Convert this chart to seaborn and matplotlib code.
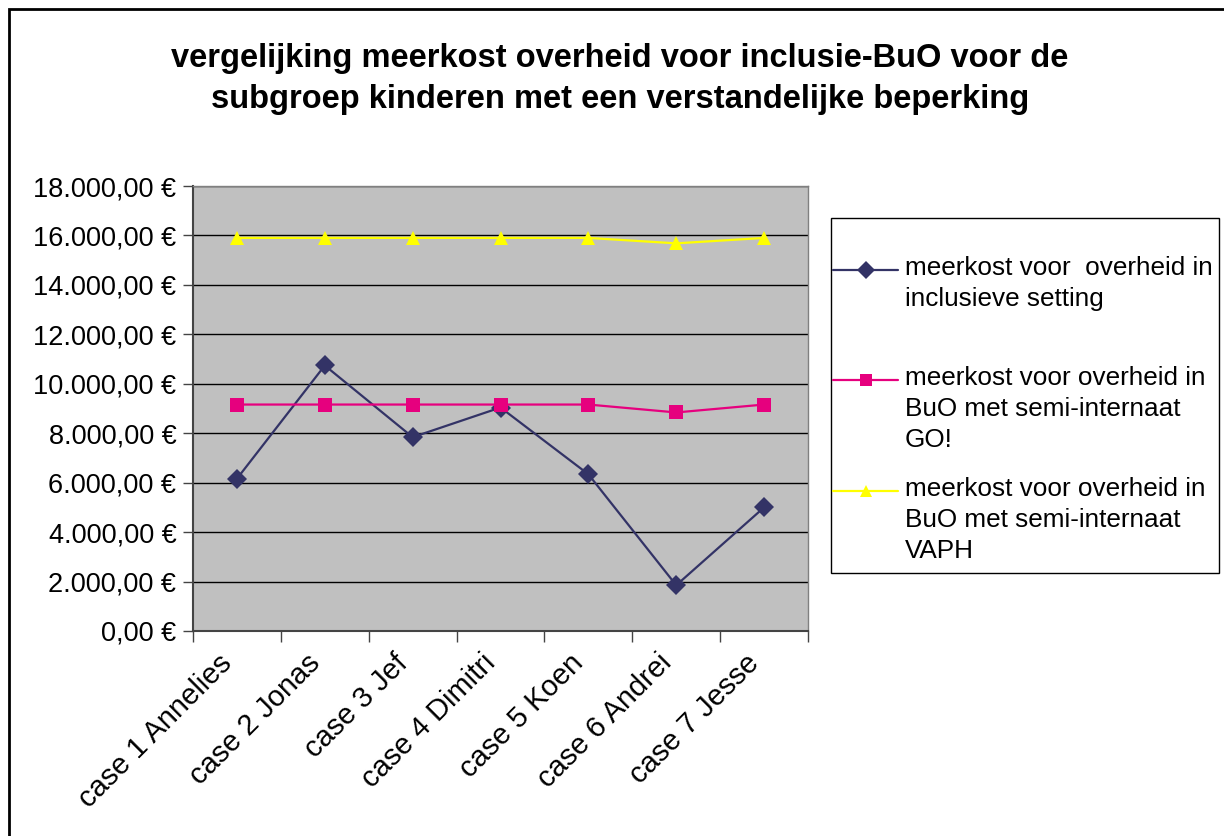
import matplotlib
matplotlib.use("Agg")
import matplotlib.pyplot as plt
import matplotlib.transforms as mtransforms
import seaborn as sns
import pandas as pd
import numpy as np
from matplotlib.patches import Rectangle
from matplotlib.ticker import FuncFormatter, FixedLocator
from matplotlib.legend_handler import HandlerLine2D

categories = ["case 1 Annelies", "case 2 Jonas", "case 3 Jef", "case 4 Dimitri",
              "case 5 Koen", "case 6 Andrei", "case 7 Jesse"]
inclusief = [6160, 10740, 7840, 9040, 6340, 1850, 5000]
semi_go = [9160, 9160, 9160, 9160, 9160, 8840, 9160]
semi_vaph = [15900, 15900, 15900, 15900, 15900, 15680, 15900]
series_names = ["meerkost voor  overheid in\ninclusieve setting\n ",
                "meerkost voor overheid in\nBuO met semi-internaat\nGO!",
                "meerkost voor overheid in\nBuO met semi-internaat\nVAPH"]
colors = ["#333366", "#e6007e", "#ffff00"]
markers = ["D", "s", "^"]
title = "vergelijking meerkost overheid voor inclusie-BuO voor de\nsubgroep kinderen met een verstandelijke beperking"

sns.set_theme(style="white")
plt.rcParams["font.family"] = ["Liberation Sans", "DejaVu Sans"]
plt.rcParams["text.color"] = "black"
plt.rcParams["xtick.labelcolor"] = "black"
plt.rcParams["ytick.labelcolor"] = "black"

rows = []
for name, vals in zip(series_names, [inclusief, semi_go, semi_vaph]):
    for i, v in enumerate(vals):
        rows.append({"x": i, "case": categories[i], "serie": name, "waarde": v})
df = pd.DataFrame(rows)

W, H = 1224, 836
fig = plt.figure(figsize=(W/100, H/100), dpi=100)
ax = fig.add_axes([193/W, 1-631/H, (808-193)/W, (631-186)/H])
ax.set_facecolor("#c0c0c0")

sns.lineplot(data=df, x="x", y="waarde", hue="serie", style="serie",
             palette=colors, markers=markers, dashes=False, linewidth=1.6,
             markersize=10, markeredgewidth=0, ax=ax, legend=True)

ax.set_xlim(-0.5, 6.5)
ax.set_ylim(0, 18000)
ax.set_yticks(np.arange(0, 18001, 2000))
ax.yaxis.set_major_formatter(FuncFormatter(
    lambda v, p: f"{v:,.2f}".replace(",", "X").replace(".", ",").replace("X", ".") + " €"))
ax.grid(axis="y", color="black", linewidth=1)
ax.set_axisbelow(True)
ax.set_xlabel("")
ax.set_ylabel("")

ax.xaxis.set_major_locator(FixedLocator(np.arange(-0.5, 7, 1)))
ax.xaxis.set_major_formatter(FuncFormatter(lambda v, p: ""))
ax.xaxis.set_minor_locator(FixedLocator(np.arange(0, 7)))
ax.set_xticklabels(categories, minor=True)
ax.tick_params(axis="x", which="major", direction="out", length=8, width=1, color="#444444", bottom=True)
ax.tick_params(axis="x", which="minor", length=0, pad=20, labelsize=21)
ax.tick_params(axis="y", which="major", direction="out", length=7, width=1, color="#444444",
               left=True, labelsize=19.5, pad=5)
shift_left = mtransforms.ScaledTranslation(-9/100, 0, fig.dpi_scale_trans)
for lbl in ax.get_xticklabels(minor=True):
    lbl.set_rotation(45)
    lbl.set_ha("right")
    lbl.set_va("center")
    lbl.set_rotation_mode("anchor")
    lbl.set_transform(lbl.get_transform() + shift_left)

for side in ["top", "right"]:
    ax.spines[side].set_visible(True)
    ax.spines[side].set_color("#808080")
    ax.spines[side].set_linewidth(1)
for side in ["left", "bottom"]:
    ax.spines[side].set_color("#444444")
    ax.spines[side].set_linewidth(1.5)


class TopHandler(HandlerLine2D):
    def __init__(self, shift, **kw):
        super().__init__(**kw)
        self.shift = shift

    def create_artists(self, legend, orig_handle, xdescent, ydescent, width, height, fontsize, trans):
        arts = super().create_artists(legend, orig_handle, xdescent, ydescent, width, height, fontsize, trans)
        for a in arts:
            a.set_ydata(np.asarray(a.get_ydata(), dtype=float) + self.shift * fontsize)
        return arts


LS = 1.36
handles, labels = ax.get_legend_handles_labels()
ax.legend_.remove()
for h in handles:
    h.set_markersize(9)
leg = fig.legend(handles, labels, loc="upper left",
                 bbox_to_anchor=(833/W, 1-256/H), frameon=False, fontsize=18.8,
                 handlelength=2.5, handletextpad=0.26, labelspacing=0.95,
                 borderpad=0, borderaxespad=0,
                 handler_map={h: TopHandler(1.12) for h in handles})
for t in leg.get_texts():
    t.set_linespacing(LS)
    t.set_color("black")

fig.add_artist(Rectangle((831/W, 1-573/H), (1219-831)/W, (573-218)/H, transform=fig.transFigure,
                         fill=False, edgecolor="black", linewidth=1))

fig.text(620/W, 1-79/H, title, ha="center", va="center", fontsize=23.5,
         fontweight="bold", linespacing=1.45, color="black")

fig.add_artist(Rectangle((8.5/W, -0.1), 1.2, 1-8.5/H + 0.1, transform=fig.transFigure,
                         fill=False, edgecolor="black", linewidth=2))

fig.savefig("out.png", dpi=100)
